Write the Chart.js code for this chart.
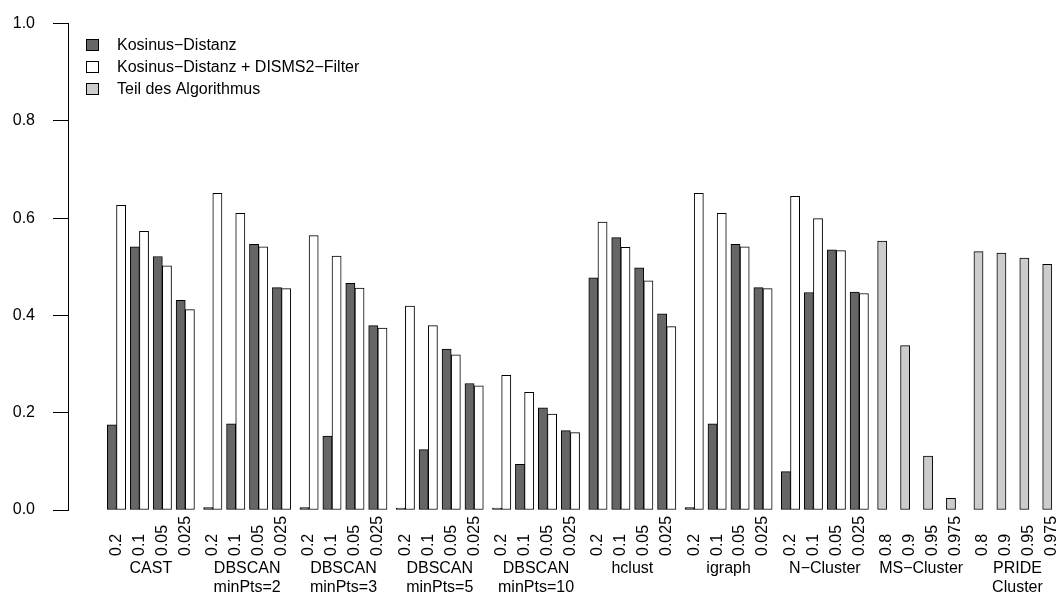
<!DOCTYPE html>
<html>
<head>
<meta charset="utf-8">
<script src="https://cdn.jsdelivr.net/npm/chart.js@4.4.1/dist/chart.umd.min.js"></script>
<style>
  html, body { margin: 0; padding: 0; background: #ffffff; }
  #wrap { width: 1059px; height: 594px; position: relative; }
</style>
</head>
<body>
<div id="wrap"><canvas id="chart" width="1059" height="594"></canvas></div>
<script>
// Clustering methods (a "\n" splits the name over two lines)
const methods = [
  'CAST', 'DBSCAN\nminPts=2', 'DBSCAN\nminPts=3', 'DBSCAN\nminPts=5', 'DBSCAN\nminPts=10',
  'hclust', 'igraph', 'N\u2212Cluster', 'MS\u2212Cluster', 'PRIDE\nCluster'
];

// Parameter values shown under each bar group
const distThresholds = ['0.2', '0.1', '0.05', '0.025'];
const simThresholds = ['0.8', '0.9', '0.95', '0.975'];

// Kosinus-Distanz, four thresholds per method (CAST ... N-Cluster)
const cosineDist = [
  0.175, 0.541, 0.521, 0.431,   // CAST
  0.005, 0.177, 0.546, 0.457,   // DBSCAN minPts=2
  0.005, 0.152, 0.466, 0.379,   // DBSCAN minPts=3
  0.004, 0.124, 0.331, 0.260,   // DBSCAN minPts=5
  0.004, 0.094, 0.210, 0.163,   // DBSCAN minPts=10
  0.477, 0.560, 0.498, 0.403,   // hclust
  0.005, 0.177, 0.546, 0.457,   // igraph
  0.079, 0.447, 0.535, 0.448    // N-Cluster
];

// Kosinus-Distanz + DISMS2-Filter
const cosineFiltered = [
  0.626, 0.573, 0.502, 0.412,
  0.651, 0.610, 0.541, 0.455,
  0.564, 0.522, 0.456, 0.374,
  0.419, 0.379, 0.319, 0.255,
  0.277, 0.242, 0.197, 0.159,
  0.592, 0.540, 0.471, 0.377,
  0.651, 0.610, 0.541, 0.455,
  0.645, 0.599, 0.533, 0.445
];

// Methods with their own built-in similarity (MS-Cluster, PRIDE Cluster)
const builtIn = [
  0.553, 0.338, 0.111, 0.024,   // MS-Cluster
  0.531, 0.528, 0.518, 0.505    // PRIDE Cluster
];

const legendLabels = [
  'Kosinus\u2212Distanz',
  'Kosinus\u2212Distanz + DISMS2\u2212Filter',
  'Teil des Algorithmus'
];

// ---- layout (in bar widths) ----
const GROUPS = 4;          // parameter values per method
const GROUP_PITCH = 2.5;   // two bars + half a bar of space
const METHOD_GAP = 1;      // extra space between methods
const METHOD_PITCH = GROUPS * GROUP_PITCH + METHOD_GAP - 0.5;
const BAR_PX = 9.17;
const FONT_FAMILY = '"Liberation Sans", Arial, sans-serif';
const FONT = '16px ' + FONT_FAMILY;

// x position of a bar group: the line between its two bars
function groupPos(m, g) {
  return 1 + m * METHOD_PITCH + g * GROUP_PITCH;
}

const DISTANCE_METHODS = 8;
const darkPts = [], whitePts = [], greyPts = [];
for (let m = 0; m < DISTANCE_METHODS; m++) {
  for (let g = 0; g < GROUPS; g++) {
    darkPts.push({ x: groupPos(m, g), y: cosineDist[m * GROUPS + g] });
    whitePts.push({ x: groupPos(m, g), y: cosineFiltered[m * GROUPS + g] });
  }
}
for (let k = 0; k < builtIn.length / GROUPS; k++) {
  for (let g = 0; g < GROUPS; g++) {
    greyPts.push({ x: groupPos(DISTANCE_METHODS + k, g), y: builtIn[k * GROUPS + g] });
  }
}

// Draws the rotated parameter labels, method names and the legend
const annotations = {
  id: 'annotations',
  afterDraw(chart) {
    const ctx = chart.ctx;
    const xs = chart.scales.x;
    ctx.save();
    ctx.font = FONT;
    ctx.fillStyle = '#000';
    methods.forEach((name, m) => {
      const params = m < DISTANCE_METHODS ? distThresholds : simThresholds;
      params.forEach((p, g) => {
        const px = xs.getPixelForValue(groupPos(m, g));
        ctx.save();
        ctx.translate(px, 556);
        ctx.rotate(-Math.PI / 2);
        ctx.textAlign = 'left';
        ctx.textBaseline = 'middle';
        ctx.fillText(p, 0, 0);
        ctx.restore();
      });
      const cx = xs.getPixelForValue(groupPos(m, (GROUPS - 1) / 2));
      ctx.textAlign = 'center';
      ctx.textBaseline = 'middle';
      name.split('\n').forEach((line, i) => ctx.fillText(line, cx, 569 + i * 19));
    });

    // legend
    chart.data.datasets.forEach((ds, i) => {
      const cy = 45 + i * 22;
      ctx.fillStyle = ds.backgroundColor;
      ctx.fillRect(86.5, cy - 5.5, 12, 11);
      ctx.strokeStyle = '#000';
      ctx.lineWidth = 1;
      ctx.strokeRect(86.5, cy - 5.5, 12, 11);
      ctx.fillStyle = '#000';
      ctx.textAlign = 'left';
      ctx.textBaseline = 'middle';
      ctx.fillText(ds.label, 117, cy + 1);
    });
    ctx.restore();
  }
};

const barStyle = {
  borderColor: '#000000',
  borderWidth: 1,
  borderSkipped: false,
  barThickness: BAR_PX
};

new Chart(document.getElementById('chart'), {
  type: 'bar',
  data: {
    datasets: [
      Object.assign({ label: legendLabels[0], data: darkPts, backgroundColor: '#666666', stack: 'a' }, barStyle),
      Object.assign({ label: legendLabels[1], data: whitePts, backgroundColor: '#ffffff', stack: 'b' }, barStyle),
      Object.assign({ label: legendLabels[2], data: greyPts, backgroundColor: '#cccccc', stack: 'a' }, barStyle)
    ]
  },
  options: {
    responsive: false,
    animation: false,
    devicePixelRatio: 1,
    layout: { padding: { top: 23.5, bottom: 84, left: 0, right: 0 } },
    plugins: {
      legend: { display: false },
      tooltip: { enabled: false }
    },
    scales: {
      x: {
        type: 'linear',
        display: false,
        offset: false,
        min: -4.29,
        max: 103.78
      },
      y: {
        stacked: false,
        min: 0,
        max: 1,
        afterFit(scale) {
          scale.width = 68;
          scale.paddingTop = 0;
          scale.paddingBottom = 0;
        },
        ticks: {
          stepSize: 0.2,
          padding: 18,
          color: '#000',
          font: { family: FONT_FAMILY, size: 16 },
          callback: (v) => v.toFixed(1)
        },
        grid: {
          drawOnChartArea: false,
          drawTicks: true,
          tickLength: 15,
          color: '#000',
          lineWidth: 1
        },
        border: { display: true, color: '#000', width: 1 }
      }
    }
  },
  plugins: [annotations]
});
</script>
</body>
</html>
